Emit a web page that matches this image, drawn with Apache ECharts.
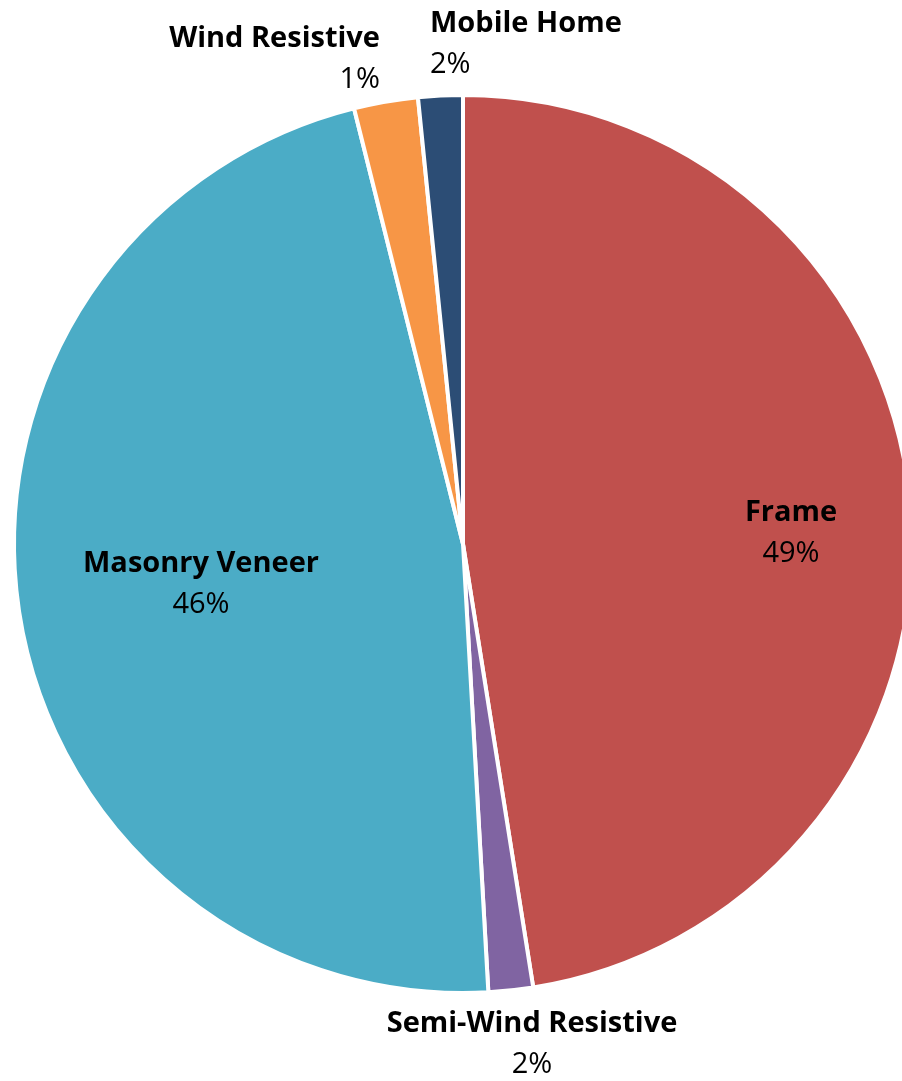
<!DOCTYPE html>
<html>
<head>
<meta charset="utf-8">
<script src="https://cdn.jsdelivr.net/npm/echarts@6/dist/echarts.min.js"></script>
<style>
  html, body { margin: 0; padding: 0; background: #fff; }
  #chart { width: 902px; height: 1081px; }
</style>
</head>
<body>
<div id="chart"></div>
<script>
// slices clockwise from 12 o'clock
const categories = ['Frame', 'Semi-Wind Resistive', 'Masonry Veneer', 'Wind Resistive', 'Mobile Home']
const shares = [47.5, 1.6, 47.0, 2.3, 1.6]        // slice sizes
const shareLabels = ['49%', '2%', '46%', '1%', '2%'] // percentages printed on the chart
const colors = ['#C0504D', '#8064A2', '#4BACC6', '#F79646', '#2C4D75']

const chart = echarts.init(document.getElementById('chart'))

// where Excel put each label (centre of the two-line block) and how it is aligned
const labelSpots = [
  {x: 791, y: 533, align: 'center'},
  {x: 532, y: 1044, align: 'center'},
  {x: 201, y: 584, align: 'center'},
  {x: 380, y: 59, align: 'right'},
  {x: 430, y: 44, align: 'left'}
]

const option = {
  backgroundColor: '#fff',
  animation: false,
  series: [{
    type: 'pie',
    center: [463, 544],
    radius: 449,
    startAngle: 90,
    clockwise: true,
    avoidLabelOverlap: false,
    itemStyle: {
      borderColor: '#fff',
      borderWidth: 4
    },
    label: {
      show: true,
      position: 'inside',
      fontFamily: 'Open Sans',
      color: '#000',
      lineHeight: 41,
      formatter: p => '{b|' + p.name + '}\n{p|' + shareLabels[p.dataIndex] + '}',
      rich: {
        b: {fontFamily: 'Open Sans', fontWeight: 'bold', fontSize: 29, lineHeight: 41, color: '#000'},
        p: {fontFamily: 'Open Sans', fontSize: 29, lineHeight: 41, color: '#000'}
      }
    },
    labelLine: {show: false},
    labelLayout: p => {
      const s = labelSpots[p.dataIndex]
      return {x: s.x, y: s.y, align: s.align, verticalAlign: 'middle'}
    },
    emphasis: {disabled: true},
    data: categories.map((c, i) => ({
      name: c,
      value: shares[i],
      itemStyle: {color: colors[i]}
    }))
  }]
}

chart.setOption(option)
</script>
</body>
</html>
